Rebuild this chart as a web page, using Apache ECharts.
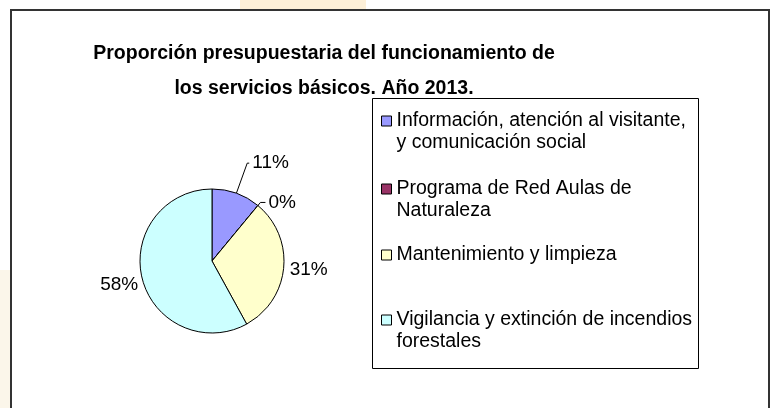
<!DOCTYPE html>
<html>
<head>
<meta charset="utf-8">
<script src="https://cdn.jsdelivr.net/npm/echarts@6/dist/echarts.min.js"></script>
<style>
html,body{margin:0;padding:0;background:#ffffff;}
#chart{width:771px;height:408px;}
</style>
</head>
<body>
<div id="chart"></div>
<script>
// ---- data ----
var categories = [
  'Información, atención al visitante, y comunicación social',
  'Programa de Red Aulas de Naturaleza',
  'Mantenimiento y limpieza',
  'Vigilancia y extinción de incendios forestales'
];
var legendLabels = [
  'Información, atención al visitante,\ny comunicación social',
  'Programa de Red Aulas de\nNaturaleza',
  'Mantenimiento y limpieza',
  'Vigilancia y extinción de incendios\nforestales'
];
var percentValues = [11, 0, 31, 58];
var sliceColors = ['#9999FF', '#993366', '#FFFFCC', '#CCFFFF'];
var titleText = 'Proporción presupuestaria del funcionamiento de\nlos servicios básicos. Año 2013.';

// ---- layout / styles ----
var FONT = '"Liberation Sans", Arial, sans-serif';
var legendTops = [88, 156, 244, 287];
var labelLineCfg = [
  {show: true, length: 32, length2: 2},
  {show: true, length: 4, length2: 5},
  {show: false, length: 0, length2: 0},
  {show: false, length: 0, length2: 0}
];
var labelDist = [3, 3, 6, 6];
var labelShift = [[0, 0], [0, 0], [0, 2], [2, 6]];

var pieData = categories.map(function (name, i) {
  return {
    name: name,
    value: percentValues[i],
    itemStyle: {color: sliceColors[i]},
    labelLine: labelLineCfg[i],
    label: {distanceToLabelLine: labelDist[i]}
  };
});

var legends = categories.map(function (name, i) {
  var twoLines = legendLabels[i].indexOf('\n') >= 0;
  return {
    data: [name],
    left: 381,
    top: legendTops[i],
    orient: 'vertical',
    padding: 0,
    selectedMode: false,
    itemWidth: 10,
    itemHeight: 10,
    itemGap: 0,
    icon: 'rect',
    itemStyle: {borderColor: '#000', borderWidth: 1},
    // leading blank line keeps the marker level with the first text line
    formatter: function () { return twoLines ? '\n' + legendLabels[i] : legendLabels[i]; },
    textStyle: {
      fontFamily: FONT,
      fontSize: 19.5,
      color: '#000',
      lineHeight: 22
    }
  };
});

var chart = echarts.init(document.getElementById('chart'), null, {renderer: 'canvas'});
chart.setOption({
  backgroundColor: '#ffffff',
  animation: false,
  title: {
    text: titleText,
    left: 324,
    top: 36,
    padding: 0,
    textAlign: 'center',
    textStyle: {
      fontFamily: FONT,
      fontSize: 19.5,
      fontWeight: 'bold',
      color: '#000',
      lineHeight: 35
    }
  },
  legend: legends,
  graphic: [
    {type: 'rect', z: -10, shape: {x: 0, y: 270, width: 10, height: 138}, style: {fill: '#FBF6EA'}},
    {type: 'rect', z: -10, shape: {x: 240, y: 0, width: 126, height: 9}, style: {fill: '#FDF0D8'}},
    {type: 'rect', z: -5, shape: {x: 11, y: 10, width: 758, height: 410}, style: {fill: '#ffffff', stroke: '#333333', lineWidth: 2}},
    {type: 'rect', z: -4, shape: {x: 372.5, y: 98.5, width: 326, height: 270}, style: {fill: '#ffffff', stroke: '#000000', lineWidth: 1}}
  ],
  series: [{
    type: 'pie',
    center: [212, 261],
    radius: 72,
    startAngle: 90,
    clockwise: true,
    avoidLabelOverlap: false,
    stillShowZeroSum: true,
    itemStyle: {borderColor: '#000', borderWidth: 1},
    emphasis: {disabled: true},
    label: {
      show: true,
      position: 'outside',
      formatter: function (p) { return p.value + '%'; },
      fontFamily: FONT,
      fontSize: 19,
      color: '#000'
    },
    labelLine: {lineStyle: {color: '#000', width: 1}, smooth: false},
    labelLayout: function (p) {
      var s = labelShift[p.dataIndex];
      return {dx: s[0], dy: s[1]};
    },
    data: pieData
  }]
});
</script>
</body>
</html>
